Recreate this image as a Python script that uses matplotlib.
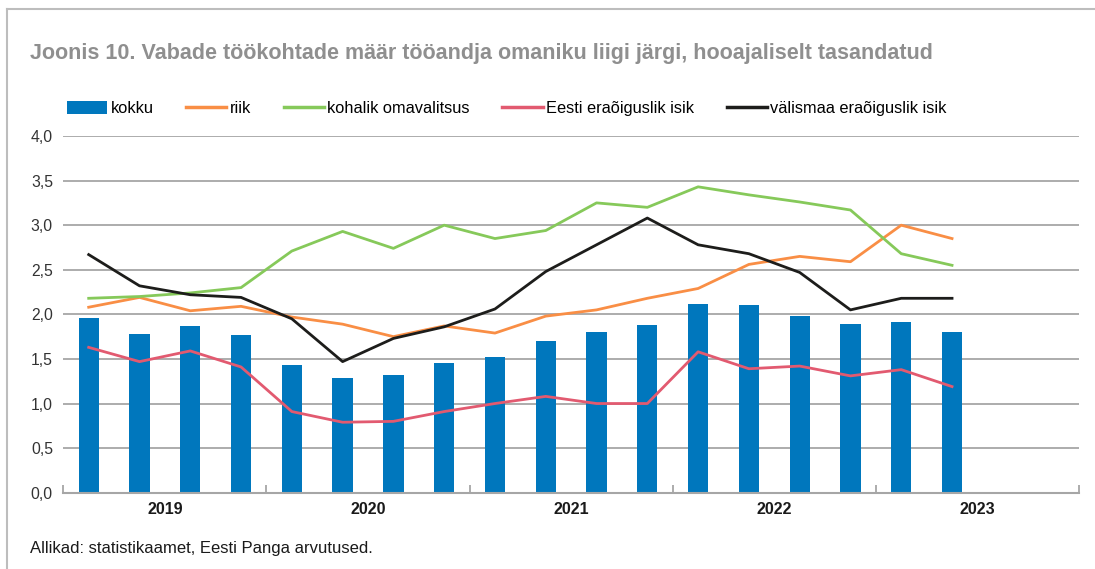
import numpy as np
import matplotlib.pyplot as plt
from matplotlib.patches import Patch
from matplotlib.lines import Line2D

plt.rcParams['font.family'] = ['Liberation Sans', 'DejaVu Sans']

# Quarterly data, 2019 Q1 - 2023 Q2 (axis runs to 2023 Q4)
years = ['2019', '2020', '2021', '2022', '2023']
n_slots = 20

kokku = [1.96, 1.78, 1.87, 1.77, 1.43, 1.29, 1.32, 1.45, 1.52, 1.70,
         1.80, 1.88, 2.12, 2.10, 1.98, 1.89, 1.91, 1.80]
riik = [2.08, 2.19, 2.04, 2.09, 1.97, 1.89, 1.75, 1.87, 1.79, 1.98,
        2.05, 2.18, 2.29, 2.56, 2.65, 2.59, 3.00, 2.85]
kohalik = [2.18, 2.20, 2.24, 2.30, 2.71, 2.93, 2.74, 3.00, 2.85, 2.94,
           3.25, 3.20, 3.43, 3.34, 3.26, 3.17, 2.68, 2.55]
eesti = [1.63, 1.47, 1.59, 1.41, 0.91, 0.79, 0.80, 0.91, 1.00, 1.08,
         1.00, 1.00, 1.58, 1.39, 1.42, 1.31, 1.38, 1.19]
valismaa = [2.67, 2.32, 2.22, 2.19, 1.95, 1.47, 1.73, 1.86, 2.06, 2.48,
            2.78, 3.08, 2.78, 2.68, 2.47, 2.05, 2.18, 2.18]

c_bar = '#0077bd'
c_riik = '#f98e45'
c_kohalik = '#86c95a'
c_eesti = '#e25a70'
c_valis = '#1d1d1b'
grid_c = '#a6a6a6'

x = np.arange(len(kokku))

fig = plt.figure(figsize=(10.95, 5.69), dpi=100)
ax = fig.add_axes([63.3 / 1095, 1 - 492.7 / 569, (1079 - 63.3) / 1095, (492.7 - 136) / 569])

# gridlines
for v in np.arange(0.5, 4.01, 0.5):
    ax.axhline(v, color=grid_c, lw=1.3, zorder=0)

ax.bar(x, kokku, width=0.4, color=c_bar, zorder=2)
lw = 2.0
ax.plot(x, riik, color=c_riik, lw=lw, zorder=3)
ax.plot(x, kohalik, color=c_kohalik, lw=lw, zorder=3)
ax.plot(x, eesti, color=c_eesti, lw=lw, zorder=3)
ax.plot(x, valismaa, color=c_valis, lw=lw, zorder=3)

ax.set_xlim(-0.5, n_slots - 0.5)
ax.set_ylim(0, 4.0)
ax.set_yticks(np.arange(0, 4.01, 0.5))
ax.set_yticklabels([f'{v:.1f}'.replace('.', ',') for v in np.arange(0, 4.01, 0.5)],
                   fontsize=11.3, color='#333333')
ax.tick_params(axis='y', length=0, pad=7.5)

ax.set_xticks(np.arange(-0.5, n_slots, 4))
ax.set_xticklabels([])
ax.tick_params(axis='x', which='major', direction='in', length=6, width=1.3, color=grid_c)
ax.set_xticks(np.arange(1.5, n_slots, 4), minor=True)
ax.set_xticklabels(years, minor=True, fontsize=11.5, fontweight='bold', color='#1a1a1a')
ax.tick_params(axis='x', which='minor', length=0, pad=7)

for s in ['left', 'right', 'top']:
    ax.spines[s].set_visible(False)
ax.spines['bottom'].set_color(grid_c)
ax.spines['bottom'].set_linewidth(1.5)
ax.set_facecolor('none')

# legend
handles = [
    Patch(facecolor=c_bar),
    Line2D([], [], color=c_riik, lw=2.5),
    Line2D([], [], color=c_kohalik, lw=2.5),
    Line2D([], [], color=c_eesti, lw=2.5),
    Line2D([], [], color=c_valis, lw=2.5),
]
labels = ['kokku', 'riik', 'kohalik omavalitsus', 'Eesti eraõiguslik isik',
          'välismaa eraõiguslik isik']
fig.legend(handles, labels, ncol=5, loc='center left',
           bbox_to_anchor=(67 / 1095, 1 - 108.5 / 569), frameon=False,
           fontsize=11.8, handlelength=2.45, handleheight=0.8, handletextpad=0.2,
           columnspacing=2.0, borderpad=0, borderaxespad=0)

# title and source
fig.text(30 / 1095, 1 - 53 / 569,
         'Joonis 10. Vabade töökohtade määr tööandja omaniku liigi järgi, hooajaliselt tasandatud',
         fontsize=15.5, fontweight='bold', color='#8f8f8f', va='center', ha='left')
fig.text(30 / 1095, 1 - 548 / 569, 'Allikad: statistikaamet, Eesti Panga arvutused.',
         fontsize=12, color='#1a1a1a', va='center', ha='left')

# outer frame (top and left)
fig.add_artist(Line2D([7 / 1095, 1], [1 - 8.5 / 569] * 2, color='#bdbdbd', lw=1.5))
fig.add_artist(Line2D([7 / 1095] * 2, [0, 1 - 8.5 / 569], color='#bdbdbd', lw=1.5))

fig.savefig('out.png', dpi=100)
